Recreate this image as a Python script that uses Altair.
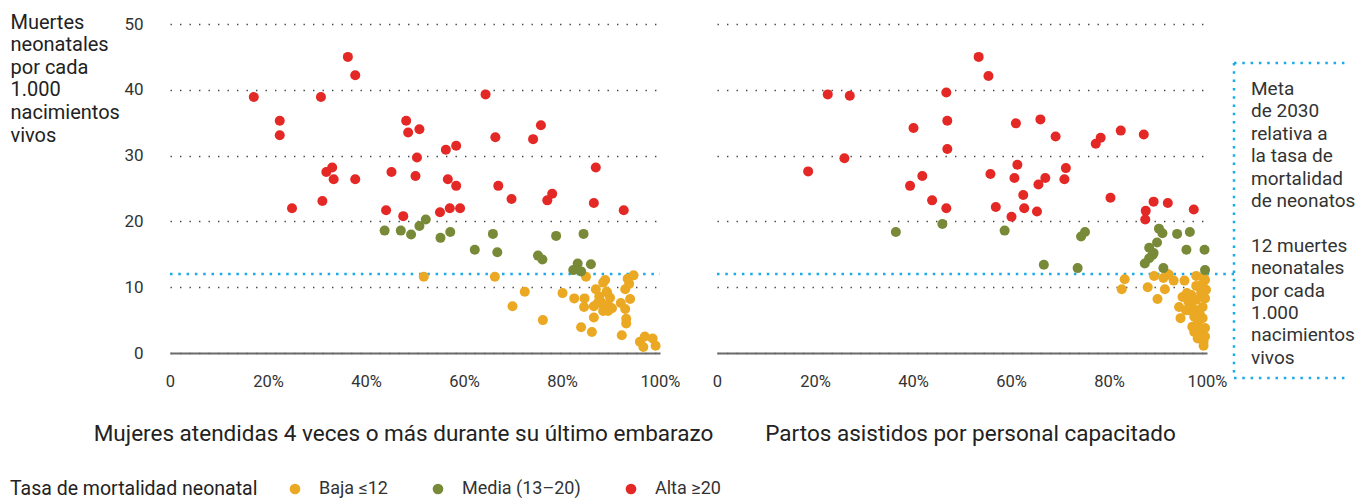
import altair as alt
import pandas as pd

CATS = ["Baja ≤12", "Media (13–20)", "Alta ≥20"]
COLORS = ["#eba823", "#788a37", "#e42825"]

# ---- Left panel: women attended 4+ times during last pregnancy ----
L_orange_x = [51.8, 66.3, 72.4, 69.9, 76.1, 80.1, 84.9, 82.5, 84.6, 84.5, 86.5, 86.9, 88.4, 88.8, 89.2,
              87.8, 88.6, 89.5, 90.2, 88.4, 89.4, 86.5, 83.9, 86.1, 92.0, 92.9, 93.9, 92.9, 93.7, 93.4,
              94.6, 93.1, 93.1, 92.2, 95.9, 96.9, 98.5, 96.6, 99.1, 87.6, 89.1, 89.8, 87.3]
L_orange_y = [11.6, 11.6, 9.3, 7.1, 5.0, 9.1, 11.6, 8.3, 8.3, 7.0, 7.1, 9.7, 10.7, 11.1, 9.2,
              7.9, 7.3, 7.2, 6.8, 6.4, 6.4, 5.4, 3.9, 3.2, 7.6, 6.7, 8.2, 9.7, 10.5, 11.3,
              11.8, 5.2, 4.5, 2.7, 1.7, 2.5, 2.2, 0.9, 1.1, 8.6, 9.3, 8.4, 7.6]
L_green_x = [43.8, 47.1, 49.2, 50.9, 52.2, 55.2, 57.2, 65.9, 62.2, 66.8, 75.1, 76.0, 78.8, 84.4, 83.2,
             82.3, 83.9, 85.9]
L_green_y = [18.6, 18.6, 18.0, 19.3, 20.3, 17.5, 18.4, 18.1, 15.7, 15.3, 14.8, 14.2, 17.8, 18.1, 13.6,
             12.6, 12.4, 13.5]
L_red_x = [36.3, 37.8, 17.1, 30.8, 22.4, 22.4, 48.2, 48.6, 50.9, 50.4, 33.1, 31.9, 33.4, 37.8, 45.2,
           50.1, 24.9, 31.1, 44.1, 47.6, 55.1, 64.4, 56.3, 58.4, 66.4, 74.1, 75.7, 56.7, 58.4, 67.0,
           69.7, 78.0, 77.0, 86.9, 86.5, 92.6, 57.1, 59.2]
L_red_y = [45.0, 42.2, 38.9, 38.9, 35.3, 33.1, 35.3, 33.5, 34.0, 29.7, 28.2, 27.5, 26.4, 26.4, 27.5,
           26.9, 22.0, 23.1, 21.7, 20.8, 21.4, 39.3, 30.9, 31.5, 32.8, 32.5, 34.6, 26.4, 25.4, 25.4,
           23.4, 24.2, 23.2, 28.2, 22.8, 21.7, 22.0, 22.0]

# ---- Right panel: births attended by skilled personnel ----
R_orange_x = [89.2, 91.1, 92.0, 93.2, 95.4, 87.9, 91.4, 89.9, 97.8, 99.3, 95.0, 94.3, 94.6, 99.3, 99.6,
              98.8, 99.6, 98.1, 97.4, 99.1, 96.4, 98.1, 99.1, 96.2, 97.8, 99.6, 96.8, 98.8, 99.8, 97.8,
              99.1, 99.6, 97.4, 98.1, 99.3, 95.9, 95.7, 82.6, 83.2, 92.2, 97.0, 98.5, 96.8, 99.0]
R_orange_y = [11.7, 11.4, 12.0, 11.0, 11.0, 10.0, 9.7, 8.2, 11.7, 11.6, 8.5, 7.0, 5.3, 1.1, 2.5,
              3.5, 3.8, 4.5, 5.5, 5.3, 6.5, 6.5, 7.0, 7.8, 8.1, 8.3, 8.8, 9.1, 9.6, 10.2,
              10.5, 11.1, 3.2, 2.2, 1.7, 9.1, 6.5, 9.7, 11.2, 11.9, 4.0, 6.0, 7.2, 9.9]
R_green_x = [36.5, 46.0, 58.7, 74.3, 75.1, 90.2, 90.9, 93.9, 96.5, 89.8, 88.2, 95.8, 99.5, 88.9, 89.1,
             88.2, 87.3, 91.1, 99.6, 66.7, 73.6]
R_green_y = [18.4, 19.6, 18.6, 17.7, 18.4, 18.9, 18.2, 18.1, 18.4, 16.8, 16.0, 15.7, 15.7, 14.9, 15.2,
             14.4, 13.6, 12.9, 12.6, 13.4, 12.9]
R_red_x = [22.6, 27.1, 46.8, 47.0, 40.1, 47.0, 26.0, 18.6, 41.9, 39.4, 43.9, 46.8, 53.4, 55.4, 61.0,
           66.0, 69.1, 77.3, 78.3, 82.4, 87.1, 61.3, 55.8, 60.7, 67.0, 65.6, 71.2, 70.9, 62.5, 56.9,
           62.7, 65.3, 60.1, 80.3, 89.1, 92.0, 87.5, 87.4, 97.3]
R_red_y = [39.3, 39.1, 39.6, 35.3, 34.2, 31.0, 29.6, 27.6, 26.9, 25.4, 23.2, 22.0, 45.0, 42.1, 34.9,
           35.5, 32.9, 31.8, 32.7, 33.8, 33.2, 28.6, 27.2, 26.6, 26.6, 25.6, 28.1, 26.4, 24.0, 22.2,
           22.0, 21.5, 20.7, 23.6, 23.0, 22.8, 21.6, 20.3, 21.8]

X_TICKS = [0, 20, 40, 60, 80, 100]
Y_TICKS = [0, 10, 20, 30, 40, 50]
TARGET = 12

Y_TITLE = ["Muertes", "neonatales", "por cada", "1.000", "nacimientos", "vivos"]
X_TITLE_L = "Mujeres atendidas 4 veces o más durante su último embarazo"
X_TITLE_R = "Partos asistidos por personal capacitado"
LEGEND_TITLE = "Tasa de mortalidad neonatal"
NOTE_1 = ["Meta", "de 2030", "relativa a", "la tasa de", "mortalidad", "de neonatos"]
NOTE_2 = ["12 muertes", "neonatales", "por cada", "1.000", "nacimientos", "vivos"]


def frame(series):
    rows = []
    for cat, xs, ys in series:
        for x, y in zip(xs, ys):
            rows.append({"x": x, "y": y, "cat": cat})
    return pd.DataFrame(rows)


left_df = frame([(CATS[0], L_orange_x, L_orange_y), (CATS[1], L_green_x, L_green_y),
                 (CATS[2], L_red_x, L_red_y)])
right_df = frame([(CATS[0], R_orange_x, R_orange_y), (CATS[1], R_green_x, R_green_y),
                  (CATS[2], R_red_x, R_red_y)])

W, H = 490, 329
FONT = "Roboto"
BLUE = "#1aabe6"

legend = alt.Legend(orient="none", legendX=-160, legendY=456, direction="horizontal",
                    titleOrient="left", title=LEGEND_TITLE, titleLimit=500, labelLimit=300,
                    symbolType="circle", symbolSize=115,
                    symbolStrokeWidth=0, labelFontSize=18, titleFontSize=19.5, titleFontWeight="normal",
                    titleColor="#222", labelColor="#333", columnPadding=41, labelOffset=15,
                    titlePadding=28, titleBaseline="middle")

color = alt.Color("cat:N", scale=alt.Scale(domain=CATS, range=COLORS), legend=legend)


def x_axis(title, title_x):
    return alt.Axis(values=X_TICKS, labelExpr="datum.value == 0 ? '0' : datum.value + '%'",
                    labelFlush=False, labelOverlap=False,
                    ticks=False, grid=False, domain=True, domainColor="#6b6b6b", domainWidth=2,
                    labelPadding=20, labelFontSize=16.5, labelColor="#333",
                    title=title, titleFontSize=22.5, titleFontWeight="normal", titleColor="#222",
                    titleX=title_x, titleY=80, titleBaseline="middle", titleAlign="center")


def y_axis(show):
    common = dict(values=Y_TICKS, ticks=False, domain=False, grid=True, gridColor="#444",
                  gridDash=[1.4, 8.1], gridWidth=1.4)
    if show:
        return alt.Axis(labels=True, labelPadding=27, labelFontSize=17, labelColor="#333",
                        title=Y_TITLE, titleAngle=0, titleAlign="left", titleBaseline="top",
                        titleX=-160, titleY=-12, titleLineHeight=22.6, titleFontSize=20,
                        titleFontWeight="normal", titleColor="#222", **common)
    return alt.Axis(labels=False, title=None, **common)


def panel(df, title, title_x, show_y, target_x2, extra=None):
    xs = alt.Scale(domain=[0, 100], nice=False)
    ys = alt.Scale(domain=[0, 50], nice=False)
    target = alt.Chart(pd.DataFrame({"t": [TARGET]})).mark_rule(
        color=BLUE, strokeWidth=2.5, strokeDash=[2.5, 5.8]
    ).encode(y=alt.Y("t:Q", scale=ys), x=alt.value(0), x2=alt.value(target_x2))
    pts = alt.Chart(df).mark_circle(size=100, opacity=1).encode(
        x=alt.X("x:Q", scale=xs, axis=x_axis(title, title_x)),
        y=alt.Y("y:Q", scale=ys, axis=y_axis(show_y)),
        color=color,
    )
    layers = [target, pts]
    if extra:
        layers += extra
    return alt.layer(*layers).properties(width=W, height=H)


BOX_L, BOX_R, BOX_T, BOX_B = 517, 633, 39, 354
NOTE_X, NOTE_Y, NOTE_LH = 534, 56, 22.4
box_df = pd.DataFrame({"k": [0]})
box_style = dict(color=BLUE, strokeWidth=2.5, strokeDash=[2.5, 5.8])
box_top = alt.Chart(box_df).mark_rule(**box_style).encode(
    x=alt.value(BOX_L), x2=alt.value(BOX_R), y=alt.value(BOX_T))
box_left = alt.Chart(box_df).mark_rule(**box_style).encode(
    x=alt.value(BOX_L), y=alt.value(BOX_T), y2=alt.value(BOX_B))
box_bottom = alt.Chart(box_df).mark_rule(**box_style).encode(
    x=alt.value(BOX_L), x2=alt.value(BOX_R), y=alt.value(BOX_B))
text_style = dict(align="left", baseline="top", fontSize=19, lineHeight=NOTE_LH,
                  color="#333", font=FONT)
note1 = alt.Chart(box_df).mark_text(**text_style).encode(
    x=alt.value(NOTE_X), y=alt.value(NOTE_Y), text=alt.value(NOTE_1))
note2 = alt.Chart(box_df).mark_text(**text_style).encode(
    x=alt.value(NOTE_X), y=alt.value(NOTE_Y + 7 * NOTE_LH), text=alt.value(NOTE_2))

left = panel(left_df, X_TITLE_L, 233, True, W)
right = panel(right_df, X_TITLE_R, 253, False, BOX_L, [box_top, box_left, box_bottom, note1, note2])

chart = alt.hconcat(left, right, spacing=57, bounds="flush").properties(
    padding={"left": 2, "top": 4, "right": 0, "bottom": 0}
).configure(font=FONT).configure_view(stroke=None)

chart.save("out.html", embed_options={"renderer": "svg", "actions": False})
